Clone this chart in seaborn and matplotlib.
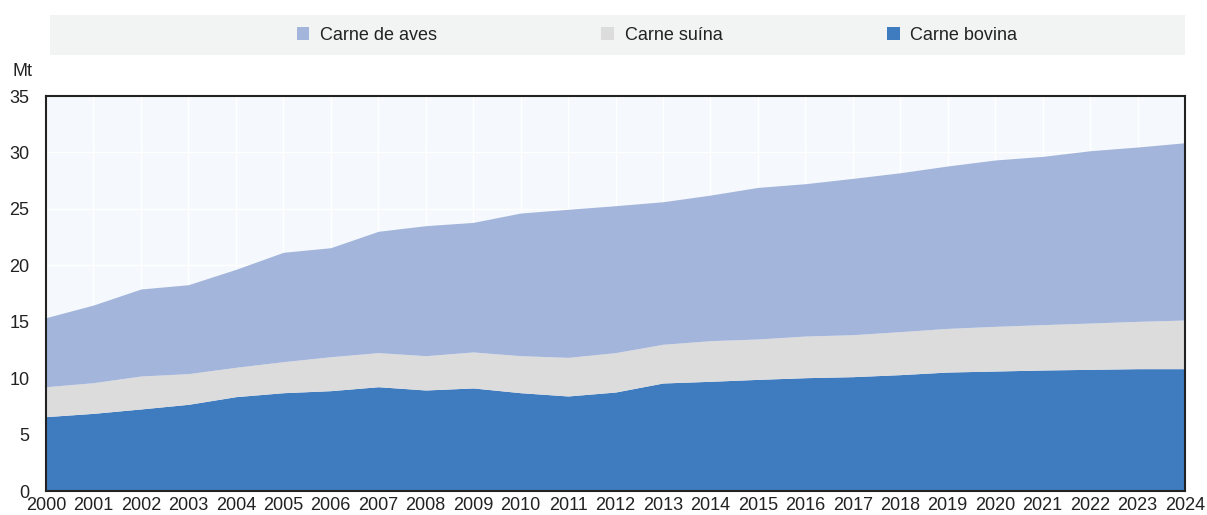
import matplotlib
matplotlib.use("Agg")
import matplotlib.pyplot as plt
import matplotlib.patches as mpatches
import seaborn as sns
import numpy as np
import pandas as pd

years = list(range(2000, 2025))
bovina = [6.59, 6.88, 7.27, 7.68, 8.36, 8.71, 8.89, 9.24, 8.95, 9.13, 8.71, 8.42, 8.77,
          9.57, 9.72, 9.89, 10.04, 10.13, 10.31, 10.54, 10.63, 10.72, 10.78, 10.84, 10.84]
suina_top = [9.24, 9.60, 10.19, 10.40, 10.96, 11.46, 11.90, 12.26, 11.99, 12.32, 11.99, 11.84, 12.26,
             13.00, 13.32, 13.47, 13.73, 13.85, 14.12, 14.41, 14.59, 14.74, 14.88, 15.03, 15.15]
aves_top = [15.36, 16.48, 17.90, 18.28, 19.64, 21.15, 21.56, 23.01, 23.51, 23.80, 24.63, 24.96, 25.28,
            25.63, 26.22, 26.90, 27.23, 27.70, 28.20, 28.80, 29.33, 29.65, 30.15, 30.48, 30.86]
suina = [round(s - b, 2) for s, b in zip(suina_top, bovina)]
aves = [round(a - s, 2) for a, s in zip(aves_top, suina_top)]

labels = ["Carne de aves", "Carne suína", "Carne bovina"]
colors = {"Carne bovina": "#3f7bbf", "Carne suína": "#dcdcdc", "Carne de aves": "#a4b5dc"}
yticks = [0, 5, 10, 15, 20, 25, 30, 35]

df = pd.DataFrame({"year": years, "Carne bovina": bovina, "Carne suína": suina, "Carne de aves": aves})

sns.set_theme(style="white")
plt.rcParams["font.family"] = ["Liberation Sans Narrow", "Liberation Sans", "DejaVu Sans"]

fig = plt.figure(figsize=(12.07, 5.15), dpi=100)
ax = fig.add_axes([46 / 1207, 1 - 491 / 515, (1185 - 46) / 1207, (491 - 96) / 515])
ax.set_facecolor("#f5f9fd")

order = ["Carne bovina", "Carne suína", "Carne de aves"]
ax.stackplot(df["year"], *[df[c] for c in order], colors=[colors[c] for c in order],
             linewidth=0, zorder=2)

ax.set_xlim(2000, 2024)
ax.set_ylim(0, 35)
ax.set_xticks(years)
ax.set_xticklabels([str(y) for y in years])
ax.set_yticks(yticks)
ax.grid(True, color="white", linewidth=1.0, zorder=1)
ax.set_axisbelow(True)
for s in ax.spines.values():
    s.set_color("#222222")
    s.set_linewidth(1.5)
    s.set_zorder(5)
ax.tick_params(axis="both", direction="in", length=5, width=1.5, color="#222222",
               labelsize=13, labelcolor="#222222")
ax.tick_params(axis="x", pad=4)
ax.tick_params(axis="y", pad=12)
ax.set_xlabel("")
ax.set_ylabel("")

fig.text(12 / 1207, 1 - 72 / 515, "Mt", fontsize=13, color="#222222", va="center", ha="left")

# legend background
fig.patches.append(mpatches.Rectangle((50 / 1207, 1 - 55 / 515), (1185 - 50) / 1207, 40 / 515,
                                      transform=fig.transFigure, facecolor="#f2f3f3",
                                      edgecolor="none", zorder=0))
handles = [mpatches.Patch(facecolor=colors[l], edgecolor="none") for l in labels]
fig.legend(handles, labels, ncol=3, loc="center", bbox_to_anchor=(657 / 1207, 1 - 35 / 515),
           frameon=False, fontsize=13, handlelength=0.7, handleheight=0.7, handletextpad=0.6,
           columnspacing=9.1, labelcolor="#222222")

fig.savefig("out.png", dpi=100)
